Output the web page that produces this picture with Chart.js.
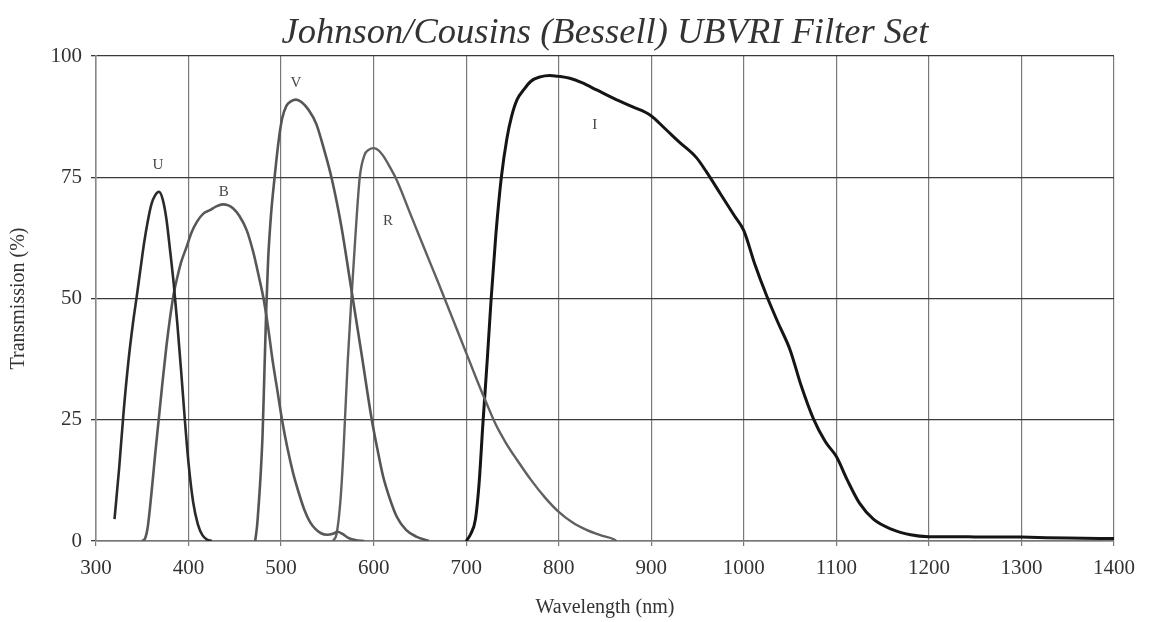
<!DOCTYPE html>
<html>
<head>
<meta charset="utf-8">
<script src="https://cdn.jsdelivr.net/npm/chart.js@4.4.1/dist/chart.umd.min.js"></script>
<style>
  html, body { margin: 0; padding: 0; background: #ffffff; }
  #wrap { width: 1152px; height: 622px; }
</style>
</head>
<body>
<div id="wrap"><canvas id="c" width="1152" height="622"></canvas></div>
<script>
// ---- Data (wavelength in nm, transmission in %) ----
const uWave  = [320, 325, 330, 335, 340, 344, 348, 352, 356, 360, 364, 368, 372, 376, 380, 384, 388, 392, 396, 400, 405, 410, 415, 420, 425];
const uTrans = [4.5, 15, 27, 37, 45, 50.4, 56, 61.5, 66, 69.5, 71.3, 72, 70.5, 66.5, 60, 53, 44.5, 35, 25, 16, 8, 3.5, 1.2, 0.3, 0];

const bWave  = [350, 353, 356, 360, 364, 368, 372, 376, 380, 384, 388, 392, 398, 403, 409, 416, 423, 430, 437, 443, 448, 455, 463, 470, 476, 481, 486, 491, 496, 501, 507, 513, 519, 525, 531, 537, 543, 550, 556, 561, 566, 572, 580, 590];
const bTrans = [0, 0.5, 3, 10, 18, 25.5, 33, 40, 46, 51, 54.5, 57.5, 60.7, 63.5, 65.8, 67.5, 68.2, 69, 69.4, 69.2, 68.6, 67, 64, 59.5, 54.5, 50, 44, 37, 31, 25, 19, 14, 10, 6.5, 4, 2.5, 1.6, 1.3, 1.5, 1.9, 1.5, 0.7, 0.2, 0];

const vWave  = [472, 474, 476, 478, 480, 482, 484, 486, 489, 493, 497, 501, 506, 511, 516, 522, 530, 538, 546, 555, 565, 575, 587, 598, 604, 610, 617, 625, 635, 646, 660];
const vTrans = [0, 3, 8, 14, 22, 35, 48, 58, 67, 75, 82, 87, 89.8, 90.7, 91, 90.5, 88.8, 86, 81, 74.5, 65, 53, 38.5, 25, 19, 13.5, 9, 5, 2.3, 0.9, 0];

const rWave  = [556, 560, 564, 567, 569, 572, 576, 580, 585, 590, 595, 600, 605, 610, 617, 625, 640, 655, 670, 685, 700, 712, 722, 732, 743, 755, 770, 785, 800, 815, 830, 845, 860, 862];
const rTrans = [0, 1.5, 8, 17, 25, 37, 50, 62, 75, 79.5, 80.7, 81, 80.6, 79.5, 77.3, 74.4, 67.3, 60.2, 53.2, 46, 38.8, 33, 28.4, 24, 20.2, 16.7, 12.6, 9, 6, 3.8, 2.3, 1.2, 0.3, 0];

const iWave  = [700, 705, 710, 714, 718, 723, 727, 732, 738, 744, 749, 755, 762, 770, 780, 790, 800, 812, 825, 841, 860, 880, 899, 915, 930, 949, 960, 975, 990, 1000, 1012, 1025, 1037, 1050, 1062, 1075, 1088, 1100, 1112, 1125, 1140, 1160, 1180, 1200, 1250, 1300, 1350, 1400];
const iTrans = [0, 1.5, 4.5, 12, 24, 38, 50, 63, 75, 83, 87.5, 91, 93, 94.8, 95.7, 96, 95.8, 95.4, 94.5, 93, 91.2, 89.5, 87.8, 85, 82.3, 79, 76, 71.5, 67, 64, 57, 50.4, 45, 39.4, 32, 25.3, 20.5, 17.4, 12.5, 7.8, 4.5, 2.4, 1.3, 0.9, 0.85, 0.8, 0.6, 0.5];

// Curve labels (text, wavelength, transmission)
const labelNames = ['U', 'B', 'V', 'R', 'I'];
const labelWave  = [367, 438, 516, 615.5, 839];
const labelTrans = [77.5, 72, 94.5, 66, 85.8];

// Axis ticks
const xTicks = [300, 400, 500, 600, 700, 800, 900, 1000, 1100, 1200, 1300, 1400];
const yTicks = [0, 25, 50, 75, 100];

function pts(xs, ys) { return xs.map((x, i) => ({ x: x, y: ys[i] })); }

const curveLabels = {
  id: 'curveLabels',
  afterDatasetsDraw(chart) {
    const ctx = chart.ctx;
    const xs = chart.scales.x, ys = chart.scales.y;
    ctx.save();
    ctx.font = '15px "Liberation Serif", serif';
    ctx.fillStyle = '#444';
    ctx.textAlign = 'center';
    ctx.textBaseline = 'middle';
    labelNames.forEach((t, i) => {
      ctx.fillText(t, xs.getPixelForValue(labelWave[i]), ys.getPixelForValue(labelTrans[i]));
    });
    ctx.restore();
  }
};

const serif = '"Liberation Serif", "DejaVu Serif", serif';

function ds(label, xs, ys, color, w) {
  return {
    label: label,
    data: pts(xs, ys),
    borderColor: color,
    backgroundColor: color,
    borderWidth: w,
    pointRadius: 0,
    fill: false,
    cubicInterpolationMode: 'monotone',
    tension: 0.4
  };
}

new Chart(document.getElementById('c'), {
  type: 'line',
  data: {
    datasets: [
      ds('U', uWave, uTrans, '#2a2a2a', 2.6),
      ds('B', bWave, bTrans, '#585858', 2.6),
      ds('V', vWave, vTrans, '#555555', 2.6),
      ds('R', rWave, rTrans, '#606060', 2.4),
      ds('I', iWave, iTrans, '#151515', 3)
    ]
  },
  options: {
    responsive: false,
    animation: false,
    layout: { padding: { left: 0, right: 38, top: 0, bottom: 0 } },
    plugins: {
      legend: { display: false },
      tooltip: { enabled: false },
      title: {
        display: true,
        fullSize: false,
        text: 'Johnson/Cousins (Bessell) UBVRI Filter Set',
        color: '#333',
        font: { family: serif, size: 36.5, style: 'italic', weight: 'normal', lineHeight: '44px' },
        padding: { top: 11, bottom: 1 }
      }
    },
    scales: {
      x: {
        type: 'linear',
        min: 300,
        max: 1400,
        afterFit(scale) { scale.height = 81; },
        afterBuildTicks(scale) { scale.ticks = xTicks.map(v => ({ value: v })); },
        ticks: {
          color: '#333',
          font: { family: serif, size: 21 },
          padding: 10,
          maxRotation: 0,
          autoSkip: false,
          callback: (v) => String(v)
        },
        grid: { color: '#7a7a7a', lineWidth: 1.2, tickLength: 5, drawTicks: true },
        border: { color: '#777', width: 1.5 },
        title: {
          display: true,
          text: 'Wavelength (nm)',
          color: '#333',
          font: { family: serif, size: 20, lineHeight: 1.2 },
          padding: { top: 0, bottom: 2 }
        }
      },
      y: {
        min: 0,
        max: 100,
        afterFit(scale) { scale.width = 96; },
        afterBuildTicks(scale) { scale.ticks = yTicks.map(v => ({ value: v })); },
        ticks: {
          color: '#333',
          font: { family: serif, size: 21 },
          padding: 9,
          callback: (v) => String(v)
        },
        grid: { color: '#3a3a3a', lineWidth: 1.3, tickLength: 5 },
        border: { color: '#888', width: 1.5 },
        title: {
          display: true,
          text: 'Transmission (%)',
          color: '#333',
          font: { family: serif, size: 20, lineHeight: 1.2 },
          padding: { top: 7, bottom: 0 }
        }
      }
    }
  },
  plugins: [curveLabels]
});
</script>
</body>
</html>
